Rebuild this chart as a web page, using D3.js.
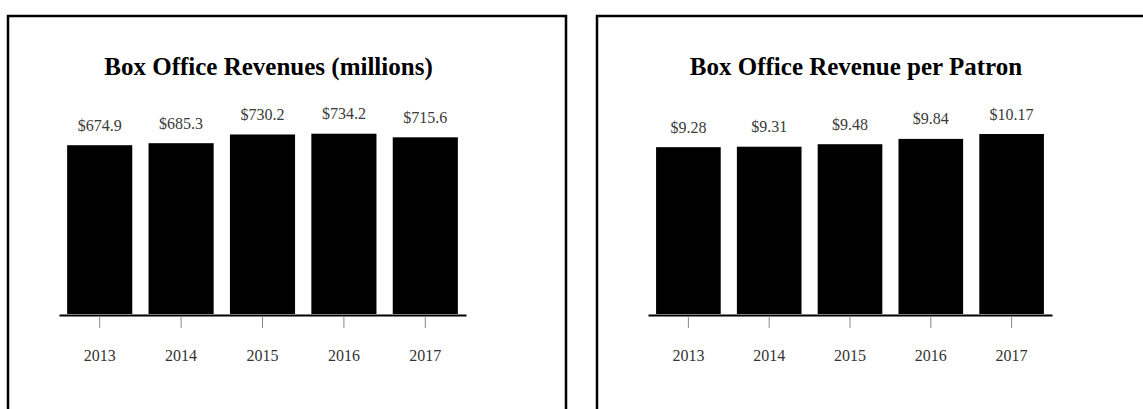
<!DOCTYPE html>
<html>
<head>
<meta charset="utf-8">
<script src="https://cdn.jsdelivr.net/npm/d3@7"></script>
<style>
	body { margin: 0; background: #fff; }
	svg { display: block; }
	text { font-family: "Liberation Serif", "Times New Roman", serif; }
</style>
</head>
<body>
<svg width="1143" height="409"></svg>
<script>
const years = ['2013', '2014', '2015', '2016', '2017'];
const revenues = [674.9, 685.3, 730.2, 734.2, 715.6];
const revenuePerPatron = [9.28, 9.31, 9.48, 9.84, 10.17];
const titles = ['Box Office Revenues (millions)', 'Box Office Revenue per Patron'];

function loader() {

	const svg = d3.select('svg');

	// panel frames (open at the bottom, cut off by the picture)
	const frames = [[8, 566], [597, 1160]];
	frames.forEach(function (f) {
		svg.append('path')
			.attr('d', 'M' + f[0] + ',420V16H' + f[1] + 'V420')
			.attr('fill', 'none')
			.attr('stroke', '#000')
			.attr('stroke-width', 2.5);
	});

	drawPanel(svg, titles[0], revenues, [59, 466], [-195, 734.2], [314, 133.7], v => '$' + d3.format('.1f')(v));
	drawPanel(svg, titles[1], revenuePerPatron, [648, 1052], [-2, 10.17], [314, 134], v => '$' + d3.format('.2f')(v));

	function drawPanel(svg, title, values, xRange, yDomain, yRange, fmt) {
		const data = years.map((y, i) => ({ year: y, value: values[i] }));

		const xScale = d3.scaleBand().domain(years).range(xRange).paddingInner(0.2).paddingOuter(0.1);
		const yScale = d3.scaleLinear().domain(yDomain).range(yRange);

		const g = svg.append('g');

		g.append('text')
			.attr('x', (xRange[0] + xRange[1]) / 2 + 6)
			.attr('y', 75)
			.attr('text-anchor', 'middle')
			.attr('font-size', 25)
			.attr('font-weight', 'bold')
			.attr('fill', '#000')
			.text(title);

		g.selectAll('.bar')
			.data(data)
			.enter()
			.append('rect')
			.classed('bar', true)
			.attr('x', d => xScale(d.year))
			.attr('width', xScale.bandwidth())
			.attr('y', d => yScale(d.value))
			.attr('height', d => yScale(yDomain[0]) - yScale(d.value))
			.attr('fill', '#000');

		g.selectAll('.val')
			.data(data)
			.enter()
			.append('text')
			.classed('val', true)
			.attr('x', d => xScale(d.year) + xScale.bandwidth() / 2)
			.attr('y', d => yScale(d.value) - 14.5)
			.attr('text-anchor', 'middle')
			.attr('font-size', 16)
			.attr('fill', '#3a3a3a')
			.text(d => fmt(d.value));

		const axis = d3.axisBottom(xScale).tickSize(13).tickPadding(22).tickSizeOuter(0);
		const ax = g.append('g')
			.attr('transform', 'translate(0,' + 315 + ')')
			.call(axis);
		ax.select('.domain').attr('stroke', '#000').attr('stroke-width', 2);
		ax.selectAll('.tick line').attr('stroke', '#888').attr('stroke-width', 1).attr('y1', 1);
		ax.selectAll('.tick text')
			.attr('font-family', '"Liberation Serif", serif')
			.attr('font-size', 16)
			.attr('fill', '#333');
	}
}
window.addEventListener('load', loader);
</script>
</body>
</html>
